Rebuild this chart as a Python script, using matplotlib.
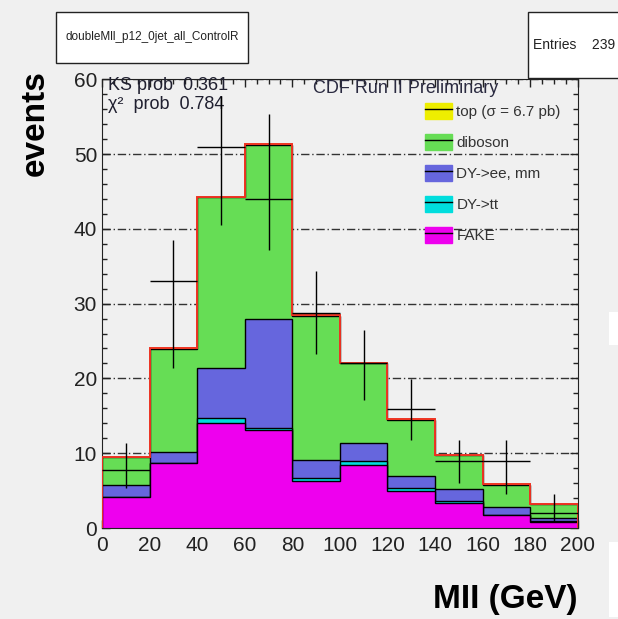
# CDF Run II control region - stacked MC vs data, MII distribution

# Importing the libraries
import numpy as np
import matplotlib
matplotlib.use('Agg')
import matplotlib.pyplot as plt
from matplotlib.patches import Patch, Rectangle
from matplotlib.lines import Line2D

plt.rcParams['font.family'] = ['Liberation Sans', 'DejaVu Sans']

# Data
edges = np.arange(0, 201, 20)
fake = [4.1, 8.65, 14.0, 13.1, 6.3, 8.4, 4.9, 3.4, 1.7, 0.85]
dy_tt = [0.1, 0.1, 0.7, 0.3, 0.4, 0.5, 0.4, 0.2, 0.1, 0.05]
dy_eemm = [1.5, 1.35, 6.7, 14.5, 2.4, 2.5, 1.7, 1.6, 1.05, 0.5]
diboson = [3.8, 13.8, 22.8, 23.3, 19.3, 10.6, 7.5, 4.5, 2.95, 1.8]
top = [0.05, 0.1, 0.1, 0.1, 0.1, 0.1, 0.1, 0.1, 0.05, 0.05]

data = [7.8, 33.0, 51.0, 44.0, 28.8, 22.0, 15.9, 9.0, 9.0, 2.0]
data_low = [5.3, 21.4, 40.5, 37.2, 23.3, 17.1, 11.8, 6.0, 4.6, 0.85]
data_high = [11.4, 38.5, 57.8, 55.4, 34.3, 26.5, 19.9, 11.8, 11.8, 4.6]

labels = ['top (σ = 6.7 pb)', 'diboson', 'DY->ee, mm', 'DY->tt', 'FAKE']
colors = ['#eeee00', '#66dd55', '#6666dd', '#00dddd', '#ee00ee']

# Cumulative stacks
c_fake = np.array(fake)
c_tt = c_fake + np.array(dy_tt)
c_ll = c_tt + np.array(dy_eemm)
c_db = c_ll + np.array(diboson)
c_top = c_db + np.array(top)

bg = '#f0f0f0'
fig = plt.figure(figsize=(6.18, 6.19), dpi=100, facecolor=bg)
ax = fig.add_axes([0.165, 0.147, 0.770, 0.725], facecolor=bg)

ax.stairs(c_top, edges, fill=True, facecolor=colors[0], edgecolor='none', zorder=2)
for vals, col in zip([c_db, c_ll, c_tt, c_fake], colors[1:]):
    ax.stairs(vals, edges, fill=True, facecolor=col, edgecolor='black', linewidth=1, zorder=2)
ax.stairs(c_top, edges, color='#ee3322', linewidth=1.4, zorder=3)

centers = (edges[:-1] + edges[1:]) / 2
yerr = [np.array(data) - np.array(data_low), np.array(data_high) - np.array(data)]
ax.errorbar(centers, data, yerr=yerr, xerr=10, fmt='none', ecolor='black',
            elinewidth=1, capsize=0, zorder=5)

# Axes style (ROOT-like)
ax.set_xlim(0, 200)
ax.set_ylim(0, 60)
ax.set_xticks(np.arange(0, 201, 20))
ax.set_xticks(np.arange(0, 201, 5), minor=True)
ax.set_yticks(np.arange(0, 61, 10))
ax.set_yticks(np.arange(0, 61, 2), minor=True)
ax.tick_params(which='both', direction='in', top=True, right=True, colors='#222222',
               labelsize=15, width=1)
ax.tick_params(which='major', length=6)
ax.tick_params(which='minor', length=3.5)
ax.tick_params(axis='x', pad=6)
for s in ax.spines.values():
    s.set_color('#222222')
ax.yaxis.grid(True, linestyle=(0, (6, 2, 1, 2)), color='#333333', linewidth=1)
ax.set_axisbelow(True)

ax.set_ylabel('events', fontsize=24, fontweight='bold', loc='top')
ax.yaxis.set_label_coords(-0.108, 1.02)
ax.set_xlabel('MII (GeV)', fontsize=24, fontweight='bold', loc='right')
ax.xaxis.set_label_coords(1.0, -0.125)

ax.text(0.012, 1.004, 'KS prob  0.361', transform=ax.transAxes, fontsize=13,
        color='#202030', va='top')
ax.text(0.012, 0.962, 'χ²  prob  0.784', transform=ax.transAxes, fontsize=13,
        color='#202030', va='top')
ax.text(0.443, 0.998, 'CDF Run II Preliminary', transform=ax.transAxes, fontsize=13,
        color='#2a2a40', va='top')

handles = [(Patch(facecolor=c, edgecolor=c), Line2D([], [], color='black', lw=1))
           for c in colors]
leg = ax.legend(handles, labels, loc='upper left', bbox_to_anchor=(0.679, 0.948),
                frameon=False, fontsize=11, handlelength=1.75, handleheight=1.3,
                labelspacing=0.94, handletextpad=0.3, borderpad=0, borderaxespad=0)
for t in leg.get_texts():
    t.set_color('#333333')

# Title box and stats box
fig.patches.append(Rectangle((56 / 618, 1 - 63 / 619), 192 / 618, 51 / 619,
                             transform=fig.transFigure, facecolor='white',
                             edgecolor='#222222', linewidth=1))
fig.text(152 / 618, 1 - 37 / 619, 'doubleMll_p12_0jet_all_ControlR', fontsize=8.5,
         ha='center', va='center', color='#222222')
fig.patches.append(Rectangle((528 / 618, 1 - 78 / 619), 100 / 618, 66 / 619,
                             transform=fig.transFigure, facecolor='white',
                             edgecolor='#222222', linewidth=1, zorder=10))
fig.text(533 / 618, 1 - 45 / 619, 'Entries    239', fontsize=10, va='center',
         color='#222222', zorder=11)

# bits of neighbouring pads at the right edge
for y0, y1 in [(312, 345), (542, 617)]:
    fig.patches.append(Rectangle((609 / 618, 1 - y1 / 619), 10 / 618, (y1 - y0) / 619,
                                 transform=fig.transFigure, facecolor='white',
                                 edgecolor='none'))

plt.savefig('out.png', dpi=100, facecolor=bg)
